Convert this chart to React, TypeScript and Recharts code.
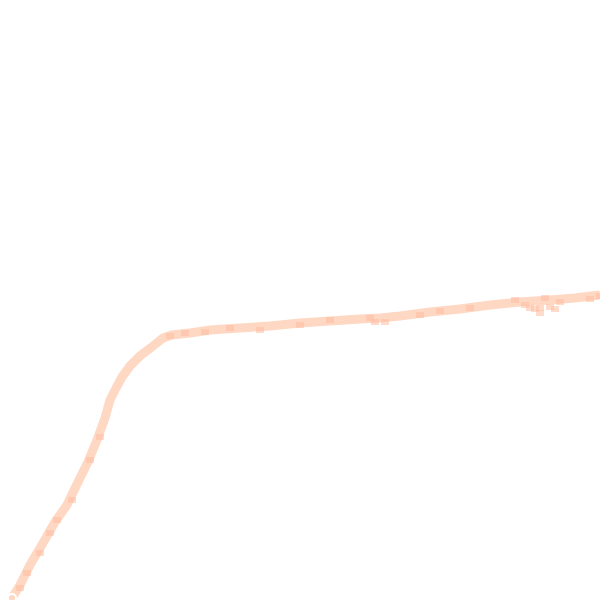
import { ComposedChart, Line, Scatter, XAxis, YAxis } from "recharts";

// Pixel-like coordinates: x left to right, y measured upward from the bottom (0..600)
const curveX = [12, 20, 30, 43, 55, 67, 78, 88, 97, 105, 110, 116, 122, 130, 140, 153, 163, 172, 190, 210, 240, 270, 300, 330, 360, 380, 400, 430, 460, 490, 520, 550, 575, 600];
const curveY = [2, 15, 35, 57, 78, 95, 118, 138, 160, 182, 200, 212, 223, 234, 244, 254, 262, 265, 267, 270, 272, 274, 277, 279, 281, 282, 284, 288, 291, 295, 298, 300, 302, 305];

const spotX = [20, 27, 40, 50, 57, 72, 90, 100, 170, 185, 205, 230, 260, 300, 330, 370, 375, 385, 420, 440, 470, 515, 525, 530, 535, 540, 540, 545, 550, 555, 560, 590, 600];
const spotY = [12, 27, 47, 67, 80, 100, 140, 163, 264, 267, 268, 272, 270, 275, 280, 282, 278, 278, 285, 289, 292, 300, 295, 292, 291, 292, 287, 302, 293, 291, 298, 301, 304];

const curveData = curveX.map((x, i) => ({ x, y: curveY[i] }));
const spotData = spotX.map((x, i) => ({ x, y: spotY[i] }));

const Square = (props: any) => {
  const { cx, cy } = props;
  return <rect x={cx - 4} y={cy - 3} width={8} height={6} fill="#ffbda2" fillOpacity={0.55} />;
};

export default function App() {
  return (
    <div style={{ position: "absolute", left: 0, top: 0, width: 600, height: 600, background: "#fff" }}>
      <ComposedChart width={600} height={600} margin={{ top: 0, right: 0, bottom: 0, left: 0 }}>
        <XAxis type="number" dataKey="x" domain={[0, 600]} hide />
        <YAxis type="number" dataKey="y" domain={[0, 600]} hide />
        <Line
          data={curveData}
          dataKey="y"
          type="linear"
          stroke="#ffd8c4"
          strokeWidth={9}
          dot={false}
          isAnimationActive={false}
        />
        <Scatter data={spotData} shape={Square} isAnimationActive={false} />
      </ComposedChart>
    </div>
  );
}
